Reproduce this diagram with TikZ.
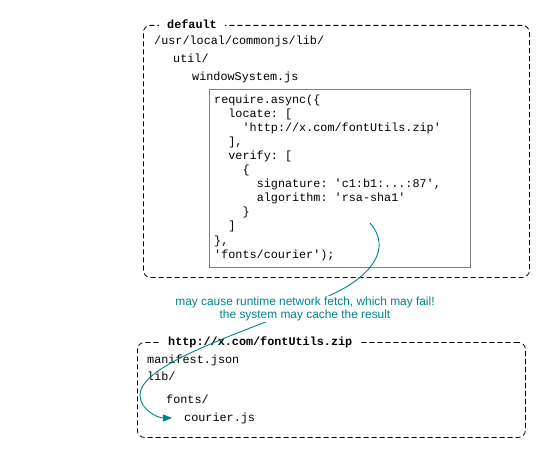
\documentclass[tikz,border=0pt]{standalone}
\usepackage{fontspec}
\setmainfont{Liberation Sans}
\setmonofont{Liberation Mono}
\usetikzlibrary{arrows.meta}
\definecolor{fetch teal}{RGB}{0,133,133}
\tikzset{
% Dashed package boxes with a title cut into the top edge
package box/.style={draw,dash pattern=on 5pt off 3pt,rounded corners=7pt,line width=0.8pt,anchor=north west,inner sep=0pt},
package title/.style={anchor=base west,fill=white,inner xsep=8.5pt,inner ysep=2pt,font=\ttfamily\bfseries\fontsize{11.8}{14}\selectfont},
% Plain file and directory entries
file node/.style={anchor=base west,inner sep=0pt,font=\ttfamily\fontsize{11.8}{14}\selectfont},
code box/.style={draw=gray,line width=0.8pt,anchor=north west,inner sep=0pt},
fetch arrow/.style={fetch teal,line width=0.9pt,-{Triangle[length=9pt,width=7pt]},shorten >=12pt},
fetch note/.style={text=fetch teal,fill=white,align=center,inner sep=1pt,font=\fontsize{11.9}{13.5}\selectfont}
}
\begin{document}
\begin{tikzpicture}[x=1pt,y=-1pt]
\useasboundingbox (0,0) rectangle (549,460);
% The default package
\node[package box,minimum width=386pt,minimum height=252pt](default) at (143,25){};
\node[package title](defaulttitle) at (158.5,28.5){default};
\node[file node](libdir) at (154,45){/usr/local/commonjs/lib/};
\node[file node](utildir) at (173,63){util/};
\node[file node](winsys) at (192,81){windowSystem.js};
% Contents of windowSystem.js
\node[code box,minimum width=261pt,minimum height=178pt](codebox) at (209,89){};
\foreach \lvl/\codeline [count=\n] in {0/{require.async(\{},1/{locate: [},2/{'http://x.com/fontUtils.zip'},1/{],},1/{verify: [},2/{\{},3/{signature: 'c1:b1:...:87',},3/{algorithm: 'rsa-sha1'},2/{\}},1/{]},0/{\},},0/{'fonts/courier');}}
  \node[file node](code\n) at (214+14.2*\lvl,103+14.1*\n-14.1){\codeline};
% The zip package
\node[package box,minimum width=388pt,minimum height=95pt](zippkg) at (137,342){};
\node[package title](zippkgtitle) at (159.5,345){http://x.com/fontUtils.zip};
\node[file node](manifest) at (147,363){manifest.json};
\node[file node](ziplib) at (147,380){lib/};
\node[file node](fontsdir) at (166,403){fonts/};
\node[file node](courierjs) at (184,421){courier.js};
% The fetch
\coordinate (fetchsrc) at (370,223);
\draw[fetch arrow](fetchsrc) .. controls (392,248) and (372,275) .. (335,293)
  .. controls (270,325) and (140,360) .. (140,395)
  .. controls (140,410) and (158,418) .. (courierjs.west);
\node[fetch note,anchor=north](note) at (305,295.5){may cause runtime network fetch, which may fail!\\the system may cache the result};
\end{tikzpicture}
\end{document}
